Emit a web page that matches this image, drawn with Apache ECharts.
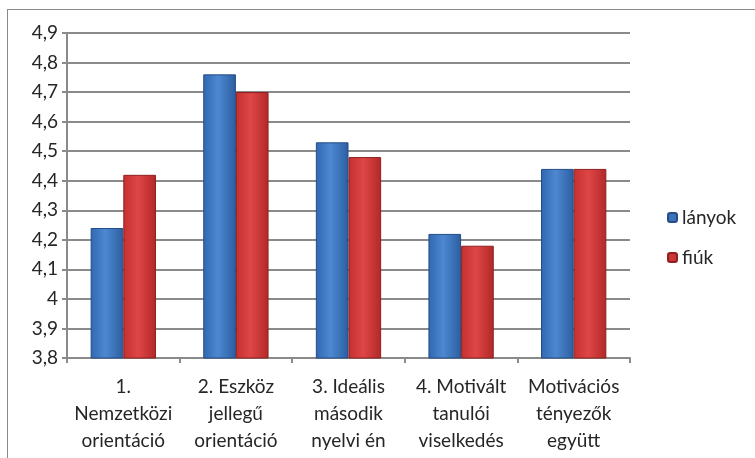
<!DOCTYPE html>
<html>
<head>
<meta charset="utf-8">
<script src="https://cdn.jsdelivr.net/npm/echarts@6/dist/echarts.min.js"></script>
<style>
  html, body { margin: 0; padding: 0; background: #fff; }
  #frame {
    position: absolute; left: 7px; top: 9px; width: 760px; height: 460px;
    border-left: 1px solid #8a8a8a; border-top: 1px solid #8a8a8a;
  }
  #chart { position: absolute; left: 0; top: 0; width: 755px; height: 458px; }
</style>
</head>
<body>
<div id="frame"></div>
<div id="chart"></div>
<script>
const categories = [
  '1.\nNemzetközi\norientáció',
  '2. Eszköz\njellegű\norientáció',
  '3. Ideális\nmásodik\nnyelvi én',
  '4. Motivált\ntanulói\nviselkedés',
  'Motivációs\ntényezők\negyütt'
]
const lanyok = [4.24, 4.76, 4.53, 4.22, 4.44]
const fiuk = [4.42, 4.70, 4.48, 4.18, 4.44]

const font = 'Lato, "Liberation Sans", sans-serif'

// bevel-ish look: darker edges, lighter middle
const blueFill = new echarts.graphic.LinearGradient(0, 0, 1, 0, [
  { offset: 0, color: '#3068b0' },
  { offset: 0.45, color: '#4d88d2' },
  { offset: 1, color: '#2c5ea0' }
])
const redFill = new echarts.graphic.LinearGradient(0, 0, 1, 0, [
  { offset: 0, color: '#c43030' },
  { offset: 0.45, color: '#df4646' },
  { offset: 1, color: '#b22828' }
])

const chart = echarts.init(document.getElementById('chart'))
chart.setOption({
  animation: false,
  grid: { left: 67, right: 125, top: 33, bottom: 100 },
  legend: {
    orient: 'vertical',
    left: 662,
    top: 203,
    itemGap: 21,
    itemWidth: 9,
    itemHeight: 9,
    textStyle: { fontFamily: font, fontSize: 19, color: '#262626' },
    data: [
      { name: 'lányok', itemStyle: { color: '#3b72ba' } },
      { name: 'fiúk', itemStyle: { color: '#cc3636' } }
    ]
  },
  xAxis: {
    type: 'category',
    data: categories,
    axisLine: { lineStyle: { color: '#8a8a8a', width: 2 } },
    axisTick: { show: true, length: 5, lineStyle: { color: '#8a8a8a', width: 2 } },
    axisLabel: {
      fontFamily: font, fontSize: 19, color: '#262626',
      lineHeight: 27, margin: 15, interval: 0
    }
  },
  yAxis: {
    type: 'value',
    min: 3.8,
    max: 4.9,
    interval: 0.1,
    axisLine: { show: true, lineStyle: { color: '#8a8a8a', width: 2 } },
    axisTick: { show: true, length: 5, lineStyle: { color: '#8a8a8a', width: 2 } },
    splitLine: { lineStyle: { color: '#8a8a8a', width: 2 } },
    axisLabel: {
      fontFamily: font, fontSize: 19, color: '#262626', margin: 9,
      formatter: v => String(Math.round(v * 10) / 10).replace('.', ',')
    }
  },
  series: [
    {
      name: 'lányok',
      type: 'bar',
      data: lanyok,
      barGap: '0%',
      barCategoryGap: '42%',
      itemStyle: { color: blueFill, borderColor: '#234d85', borderWidth: 1 }
    },
    {
      name: 'fiúk',
      type: 'bar',
      data: fiuk,
      itemStyle: { color: redFill, borderColor: '#8e2020', borderWidth: 1 }
    }
  ]
})
</script>
</body>
</html>
